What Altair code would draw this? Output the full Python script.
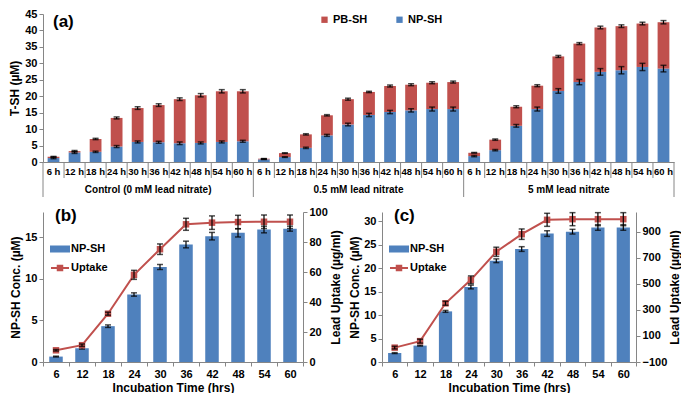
import altair as alt
import pandas as pd

FONT = "Liberation Sans"
BLUE = "#4F81BD"
RED = "#C0504D"
GRAY = "#868686"

groups = ["Control (0 mM lead nitrate)", "0.5 mM lead nitrate", "5 mM lead nitrate"]
times = [6, 12, 18, 24, 30, 36, 42, 48, 54, 60]

# Panel (a): NP-SH and total T-SH (uM) per group
a_np_control = [1.2, 2.9, 3.1, 4.7, 6.1, 6.0, 5.7, 5.8, 6.1, 6.3]
a_tot_control = [1.6, 3.3, 7.0, 13.4, 16.4, 17.3, 19.1, 20.3, 21.5, 21.5]
a_np_05 = [0.8, 1.5, 4.3, 8.1, 11.4, 14.3, 15.2, 15.7, 16.1, 16.1]
a_tot_05 = [1.0, 2.7, 8.4, 14.2, 19.1, 21.3, 23.1, 23.5, 24.1, 24.3]
a_np_5 = [1.8, 3.6, 11.0, 16.1, 21.6, 24.3, 27.4, 27.9, 28.9, 28.4]
a_tot_5 = [2.8, 6.8, 16.8, 23.2, 32.1, 36.0, 40.9, 41.3, 42.1, 42.5]
a_np_err_control = [0.2, 0.3, 0.2, 0.3, 0.3, 0.3, 0.4, 0.3, 0.3, 0.3]
a_tot_err_control = [0.1, 0.2, 0.2, 0.3, 0.4, 0.4, 0.4, 0.5, 0.5, 0.5]
a_np_err_05 = [0.05, 0.1, 0.2, 0.3, 0.4, 0.5, 0.5, 0.5, 0.6, 0.6]
a_tot_err_05 = [0.05, 0.1, 0.2, 0.2, 0.3, 0.2, 0.3, 0.3, 0.3, 0.3]
a_np_err_5 = [0.2, 0.2, 0.4, 0.6, 0.7, 0.8, 1.0, 1.1, 1.1, 1.0]
a_tot_err_5 = [0.1, 0.2, 0.3, 0.3, 0.3, 0.3, 0.4, 0.4, 0.4, 0.5]

# Panel (b): control
b_np = [0.65, 1.65, 4.3, 8.1, 11.4, 14.1, 15.1, 15.5, 15.9, 16.0]
b_np_err = [0.05, 0.1, 0.15, 0.2, 0.3, 0.4, 0.45, 0.5, 0.4, 0.3]
b_uptake = [7.8, 11.2, 32.2, 58.1, 75.2, 91.8, 92.9, 93.3, 93.5, 93.5]
b_uptake_err = [0.5, 0.8, 1.0, 3.0, 3.5, 4.0, 4.5, 4.5, 4.5, 4.5]

# Panel (c): 5 mM
c_np = [1.9, 3.5, 10.8, 16.0, 21.6, 24.1, 27.4, 27.8, 28.7, 28.7]
c_np_err = [0.1, 0.1, 0.2, 0.4, 0.4, 0.5, 0.6, 0.5, 0.6, 0.6]
c_uptake = [10, 60, 350, 530, 745, 880, 990, 995, 995, 995]
c_uptake_err = [10, 15, 15, 30, 35, 40, 50, 50, 50, 50]


def ax(**kw):
    base = dict(labelFont=FONT, labelFontSize=11, labelFontWeight="bold", labelColor="black",
                titleFont=FONT, titleFontSize=12, titleFontWeight="bold", titleColor="black",
                domainColor=GRAY, tickColor=GRAY, tickSize=4, labelPadding=2, grid=False)
    base.update(kw)
    return alt.Axis(**base)


# ---------------- Panel (a) ----------------
np_sets = [a_np_control, a_np_05, a_np_5]
tot_sets = [a_tot_control, a_tot_05, a_tot_5]
npe_sets = [a_np_err_control, a_np_err_05, a_np_err_5]
tote_sets = [a_tot_err_control, a_tot_err_05, a_tot_err_5]

rows, segs, errs = [], [], []
for gi, g in enumerate(groups):
    for ti, t in enumerate(times):
        key = f"{gi}_{t}"
        rows.append(dict(key=key, group=g, tlabel=f"{t} h", ti=ti))
        segs.append(dict(key=key, series="NP-SH", y0=0.0, y1=np_sets[gi][ti]))
        segs.append(dict(key=key, series="PB-SH", y0=np_sets[gi][ti], y1=tot_sets[gi][ti]))
        errs.append(dict(key=key, val=np_sets[gi][ti], err=npe_sets[gi][ti]))
        errs.append(dict(key=key, val=tot_sets[gi][ti], err=tote_sets[gi][ti]))
df_a = pd.DataFrame(rows)
seg_a = pd.DataFrame(segs)
err_a = pd.DataFrame(errs)
order = list(df_a["key"])

WA, HA = 631, 148
xscale_a = alt.Scale(paddingInner=0, paddingOuter=0)
xaxis_a = ax(labels=False, ticks=False, title=None)
ya_scale = alt.Scale(domain=[0, 45], nice=False)
ya_axis = ax(title="T-SH (µM)", values=list(range(0, 50, 5)), titlePadding=3)


def xa(**kw):
    return alt.X("key:N", sort=order, scale=xscale_a, axis=xaxis_a, **kw)


bars_a = alt.Chart(seg_a).mark_bar(width=alt.RelativeBandSize(0.56)).encode(
    x=xa(),
    y=alt.Y("y0:Q", scale=ya_scale, axis=ya_axis),
    y2="y1:Q",
    color=alt.Color("series:N", scale=alt.Scale(domain=["PB-SH", "NP-SH"], range=[RED, BLUE]),
                    legend=alt.Legend(title=None, orient="none", legendX=276, legendY=0,
                                      direction="horizontal", symbolType="square", symbolSize=40,
                                      labelFont=FONT, labelFontSize=11, labelFontWeight="bold",
                                      columnPadding=26, labelOffset=3)),
)
err_base = alt.Chart(err_a).transform_calculate(lo="datum.val - datum.err", hi="datum.val + datum.err")
err_rule_a = err_base.mark_rule(color="black", strokeWidth=1.2).encode(
    x=xa(), y=alt.Y("lo:Q", scale=ya_scale, axis=ya_axis), y2="hi:Q")
cap_lo_a = err_base.mark_tick(color="black", thickness=1.5, size=6).encode(
    x=xa(), y=alt.Y("lo:Q", scale=ya_scale, axis=ya_axis))
cap_hi_a = err_base.mark_tick(color="black", thickness=1.5, size=6).encode(
    x=xa(), y=alt.Y("hi:Q", scale=ya_scale, axis=ya_axis))

cat_text = alt.Chart(df_a).mark_text(font=FONT, fontSize=9.5, fontWeight="bold", baseline="middle").encode(
    x=xa(), y=alt.value(HA + 10), text="tlabel:N")
seps = alt.Chart(df_a).transform_filter("datum.ti > 0").mark_rule(color=GRAY).encode(
    x=xa(bandPosition=0), y=alt.value(HA), y2=alt.value(HA + 16))
gseps = alt.Chart(df_a).transform_filter("datum.ti == 0").mark_rule(color=GRAY).encode(
    x=xa(bandPosition=0), y=alt.value(HA), y2=alt.value(HA + 35))
endsep = alt.Chart(df_a).transform_filter(f"datum.key == '{order[-1]}'").mark_rule(color=GRAY).encode(
    x=xa(bandPosition=1), y=alt.value(HA), y2=alt.value(HA + 35))
gtext = alt.Chart(df_a).transform_filter("datum.ti == 5").mark_text(
    font=FONT, fontSize=10, fontWeight="bold", baseline="middle").encode(
    x=xa(bandPosition=0), y=alt.value(HA + 28), text="group:N")
label_a = alt.Chart(pd.DataFrame({"t": ["(a)"]})).mark_text(
    font=FONT, fontSize=17, fontWeight="bold", align="left", baseline="top").encode(
    x=alt.value(10), y=alt.value(0), text="t:N")

top = alt.layer(bars_a, err_rule_a, cap_lo_a, cap_hi_a, cat_text, seps, gseps, endsep, gtext, label_a
                ).properties(width=WA, height=HA)


# ---------------- Panels (b), (c) ----------------
def panel(np_vals, np_err, up, up_err, left_dom, left_ticks, right_dom, right_ticks, label, W, H):
    df = pd.DataFrame({"t": times, "np": np_vals, "np_err": np_err, "up": up, "up_err": up_err})
    base = alt.Chart(df)
    x = alt.X("t:O", scale=alt.Scale(paddingInner=0, paddingOuter=0),
              axis=ax(title="Incubation Time (hrs)", tickBand="extent", labelAngle=0, titlePadding=3))
    yl_s = alt.Scale(domain=left_dom, nice=False)
    yl_a = ax(title="NP-SH Conc. (µM)", values=left_ticks, titlePadding=2)
    yr_s = alt.Scale(domain=right_dom, nice=False)
    yr_a = ax(title="Lead Uptake (µg/ml)", values=right_ticks, orient="right", titleAngle=270,
              titleBaseline="top", titlePadding=3)
    cscale = alt.Scale(domain=["NP-SH", "Uptake"], range=[BLUE, RED])
    sym = ("datum.value === 'NP-SH' ? 'M0,-0.5H3.6V0.5H0Z' : "
           "'M0,0H3.6M1.35,-0.45H2.25V0.45H1.35Z'")
    col = f"datum.value === 'NP-SH' ? '{BLUE}' : '{RED}'"
    leg = alt.Legend(title=None, orient="none", legendX=2, legendY=31, symbolSize=100,
                     labelOffset=14, labelFont=FONT, labelFontSize=11, labelFontWeight="bold",
                     rowPadding=5,
                     symbolType=alt.ExprRef(expr=sym),
                     symbolFillColor=alt.ExprRef(expr=col),
                     symbolStrokeColor=alt.ExprRef(expr=col),
                     symbolStrokeWidth=2, symbolOpacity=1)
    color = alt.Color("series:N", scale=cscale, legend=leg)

    bars = base.transform_calculate(series="'NP-SH'").mark_bar(
        width=alt.RelativeBandSize(0.52)).encode(
        x=x, y=alt.Y("np:Q", scale=yl_s, axis=yl_a), color=color)
    eb = base.transform_calculate(lo="datum.np - datum.np_err", hi="datum.np + datum.np_err")
    b_rule = eb.mark_rule(color="black", strokeWidth=1.2).encode(
        x=x, y=alt.Y("lo:Q", scale=yl_s, axis=yl_a), y2="hi:Q")
    b_lo = eb.mark_tick(color="black", thickness=1.5, size=6).encode(
        x=x, y=alt.Y("lo:Q", scale=yl_s, axis=yl_a))
    b_hi = eb.mark_tick(color="black", thickness=1.5, size=6).encode(
        x=x, y=alt.Y("hi:Q", scale=yl_s, axis=yl_a))
    label_t = alt.Chart(pd.DataFrame({"t": [label]})).mark_text(
        font=FONT, fontSize=17, fontWeight="bold", align="left", baseline="middle").encode(
        x=alt.value(12), y=alt.value(4), text="t:N")
    left = alt.layer(bars, b_rule, b_lo, b_hi, label_t)

    ub = base.transform_calculate(series="'Uptake'")
    line = ub.mark_line(strokeWidth=2).encode(
        x=x, y=alt.Y("up:Q", scale=yr_s, axis=yr_a), color=color)
    pts = ub.mark_point(shape="square", filled=True, size=42, opacity=1).encode(
        x=x, y=alt.Y("up:Q", scale=yr_s, axis=yr_a), color=color)
    ue = base.transform_calculate(lo="datum.up - datum.up_err", hi="datum.up + datum.up_err")
    u_rule = ue.mark_rule(color="black", strokeWidth=1.2).encode(
        x=x, y=alt.Y("lo:Q", scale=yr_s, axis=yr_a), y2="hi:Q")
    u_lo = ue.mark_tick(color="black", thickness=1.5, size=6).encode(
        x=x, y=alt.Y("lo:Q", scale=yr_s, axis=yr_a))
    u_hi = ue.mark_tick(color="black", thickness=1.5, size=6).encode(
        x=x, y=alt.Y("hi:Q", scale=yr_s, axis=yr_a))
    right = alt.layer(line, pts, u_rule, u_lo, u_hi)
    return alt.layer(left, right).resolve_scale(y="independent").properties(width=W, height=H)


pb = panel(b_np, b_np_err, b_uptake, b_uptake_err, [0, 18], [0, 5, 10, 15],
           [0, 100], [0, 20, 40, 60, 80, 100], "(b)", 260, 150)
pc = panel(c_np, c_np_err, c_uptake, c_uptake_err, [0, 32], [0, 5, 10, 15, 20, 25, 30],
           [-100, 1050], [-100, 100, 300, 500, 700, 900], "(c)", 254, 150)

bottom = alt.hconcat(pb, pc, spacing=6).resolve_scale(
    x="independent", y="independent", color="independent").resolve_legend(color="independent")

chart = alt.vconcat(top, bottom, spacing=8).resolve_scale(
    x="independent", y="independent", color="independent").resolve_legend(color="independent"
).properties(padding=0).configure_view(stroke=None)

chart.save("out.html", embed_options={"renderer": "svg", "actions": False})
